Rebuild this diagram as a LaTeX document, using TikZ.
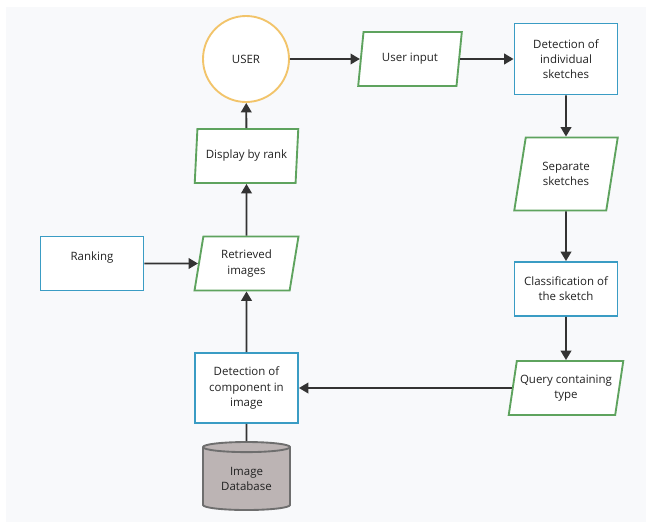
\documentclass[tikz,border=0pt]{standalone}
\usepackage{fontspec}
\setmainfont{Open Sans}
\usetikzlibrary{arrows.meta}
\usetikzlibrary{shapes.geometric}

\definecolor{boxblue}{HTML}{3A9CC4}
\definecolor{iogreen}{HTML}{5EA35E}
\definecolor{userorange}{HTML}{F2C46A}
\definecolor{dbgray}{HTML}{BCB4B4}
\definecolor{dbline}{HTML}{6E6E6E}
\definecolor{linegray}{HTML}{333333}
\definecolor{textgray}{HTML}{222222}
\definecolor{bggray}{HTML}{F8F9FB}

\begin{document}
\begin{tikzpicture}[x=0.03cm, y=-0.03cm]
	\tikzset{base/.style = {font=\fontsize{9.8}{13}\selectfont, text=textgray, align=center, inner sep=0pt, line width=1.6pt}}
	\tikzset{process/.style = {base, shape=rectangle, draw=boxblue, fill=white, minimum width=3.09cm, minimum height=1.62cm}}
	\tikzset{io/.style = {base, shape=trapezium, trapezium left angle=74, trapezium right angle=106, trapezium stretches=true, draw=iogreen, fill=white, minimum width=3.12cm, minimum height=1.62cm}}
	\tikzset{user/.style = {base, shape=circle, draw=userorange, fill=white, minimum size=2.58cm}}
	\tikzset{database/.style = {base, shape=cylinder, shape border rotate=90, aspect=0.2, draw=dbline, fill=dbgray, minimum width=2.61cm, minimum height=2.04cm}}
	\tikzset{edge/.style = {-{Triangle[width=9pt,length=8pt]}, line width=1.6pt, draw=linegray}}
	% background
	\useasboundingbox (0,0) rectangle (646,522);
	\fill[bggray] (6,7) rectangle (646,522);
	% vertices
	\node[user] (user) at (246,59) {USER};
	\node[io] (input) at (410,59) {User input};
	\node[process, minimum height=2.13cm] (detect) at (566,59) {Detection of\\individual\\sketches};
	\node[io, minimum height=2.19cm] (separate) at (566,174) {Separate\\sketches};
	\node[process] (classify) at (566,289) {Classification of\\the sketch};
	\node[io, minimum width=3.45cm] (query) at (566,388) {Query containing\\type};
	\node[process, minimum height=2.1cm] (component) at (246.5,388) {Detection of\\component in\\image};
	\node[database] (database) at (246.5,479) {Image\\Database};
	\node[io, trapezium left angle=79, trapezium right angle=101] (retrieved) at (246.5,263.5) {Retrieved\\images};
	\node[io, trapezium left angle=79, trapezium right angle=101] (display) at (246.5,156) {Display by rank};
	\node[process] (ranking) at (92,263.5) {Ranking\\\phantom{R}};
	% edges
	\draw[edge] (user) -- (input);
	\draw[edge] (input) -- (detect);
	\draw[edge] (detect) -- (separate);
	\draw[edge] (separate) -- (classify);
	\draw[edge] (classify) -- (query);
	\draw[edge] (query) -- (component);
	\draw[line width=1.6pt, draw=linegray] (database) -- (component);
	\draw[edge] (component) -- (retrieved);
	\draw[edge] (ranking) -- (retrieved);
	\draw[edge] (retrieved) -- (display);
	\draw[edge] (display) -- (user);
\end{tikzpicture}
\end{document}
